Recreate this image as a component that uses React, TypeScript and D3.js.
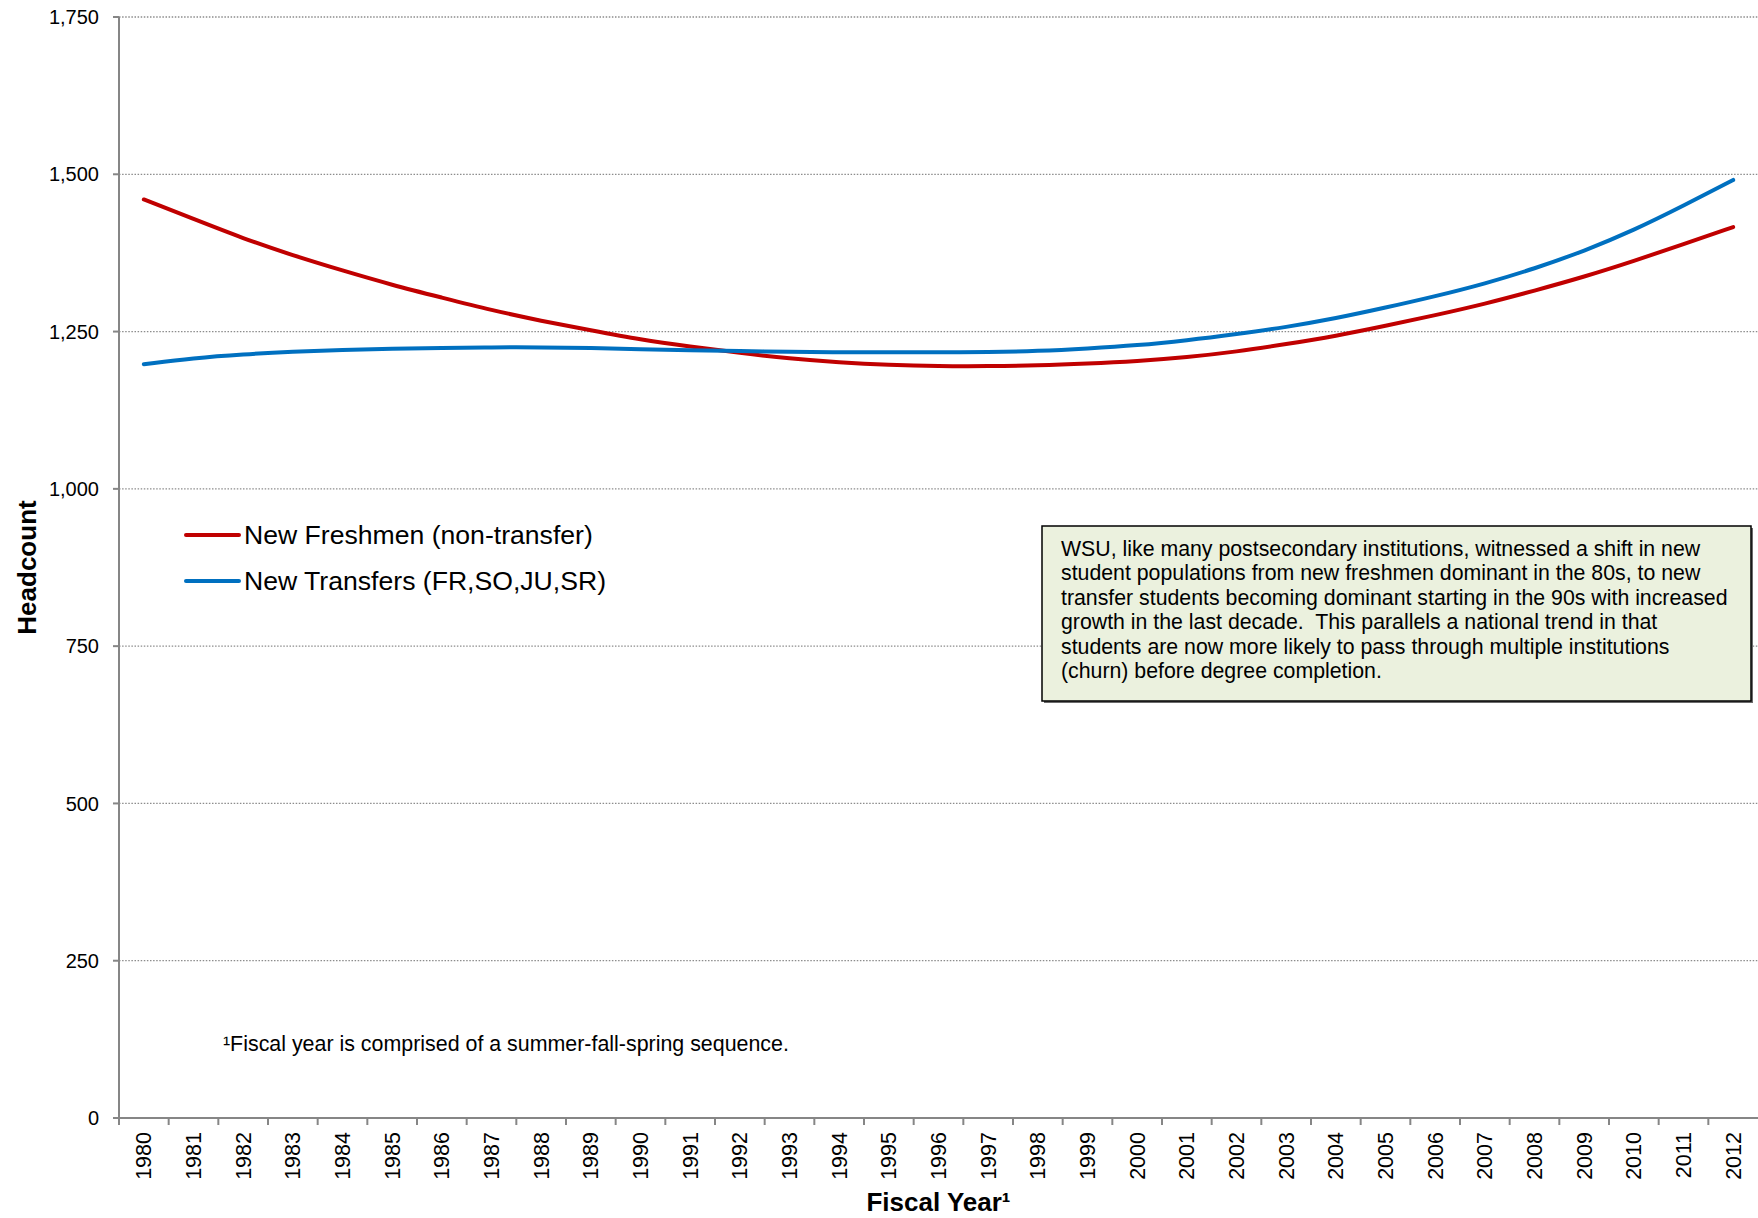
import * as d3 from "d3";
import { useMemo } from "react";

// categories (fiscal years)
const fiscalYears = [
  "1980", "1981", "1982", "1983", "1984", "1985", "1986", "1987", "1988", "1989",
  "1990", "1991", "1992", "1993", "1994", "1995", "1996", "1997", "1998", "1999",
  "2000", "2001", "2002", "2003", "2004", "2005", "2006", "2007", "2008", "2009",
  "2010", "2011", "2012",
];

// trendline values
const newFreshmen = [
  1460, 1429, 1398, 1371, 1347, 1324, 1304, 1284, 1267, 1252,
  1237, 1226, 1216, 1207, 1201, 1197, 1195, 1195, 1196, 1199,
  1203, 1209, 1218, 1230, 1243, 1259, 1276, 1294, 1315, 1337,
  1362, 1389, 1416,
];

const newTransfers = [
  1198, 1208, 1214, 1218, 1221, 1223, 1224, 1225, 1225, 1224,
  1222, 1220, 1219, 1218, 1217, 1217, 1217, 1217, 1219, 1223,
  1228, 1236, 1246, 1257, 1271, 1288, 1306, 1326, 1350, 1378,
  1411, 1450, 1491,
];

const yTickValues = [0, 250, 500, 750, 1000, 1250, 1500, 1750];

const seriesNames = ["New Freshmen (non-transfer)", "New Transfers (FR,SO,JU,SR)"];
const seriesColors = ["#C00000", "#0070C0"];

const noteLines = [
  "WSU, like many postsecondary institutions, witnessed a shift in new",
  "student populations from new freshmen dominant in the 80s, to new",
  "transfer students becoming dominant starting in the 90s with increased",
  "growth in the last decade.  This parallels a national trend in that",
  "students are now more likely to pass through multiple institutions",
  "(churn) before degree completion.",
];

const footnote = "¹Fiscal year is comprised of a summer-fall-spring sequence.";

const FONT = "'Liberation Sans', Arial, Helvetica, sans-serif";

function TrendChart({ width, height }: { width: number; height: number }) {
  // bounds = area inside the axes
  const margin = { top: 17, right: 0, bottom: 100, left: 119 };
  const boundsWidth = width - margin.left - margin.right;
  const boundsHeight = height - margin.top - margin.bottom;

  const xScale = useMemo(() => {
    return d3.scaleBand<string>().domain(fiscalYears).range([0, boundsWidth]).padding(0);
  }, [boundsWidth]);

  const yScale = useMemo(() => {
    return d3.scaleLinear().domain([0, 1750]).range([boundsHeight, 0]);
  }, [boundsHeight]);

  const xCenter = (year: string) => (xScale(year) || 0) + xScale.bandwidth() / 2;

  const lineGenerator = d3
    .line<number>()
    .x((_, i) => xCenter(fiscalYears[i]))
    .y((d) => yScale(d))
    .curve(d3.curveBasis);

  const allSeries = [newFreshmen, newTransfers];

  return (
    <svg width={width} height={height} style={{ position: "absolute", left: 0, top: 0, background: "#fff" }}>
      <g transform={`translate(${margin.left},${margin.top})`} fontFamily={FONT}>
        {/* grid lines */}
        {yTickValues.map((v) => (
          <line
            key={"g" + v}
            x1={0}
            x2={boundsWidth}
            y1={yScale(v)}
            y2={yScale(v)}
            stroke="#8c8c8c"
            strokeWidth={1.3}
            strokeDasharray="1.5,1.6"
          />
        ))}

        {/* y axis */}
        <line x1={0} x2={0} y1={0} y2={boundsHeight} stroke="#868686" strokeWidth={2} />
        {yTickValues.map((v) => (
          <g key={"y" + v} transform={`translate(0,${yScale(v)})`}>
            <line x1={-6} x2={0} stroke="#868686" strokeWidth={2} />
            <text x={-20} dy="0.36em" textAnchor="end" fontSize={20} fill="#000">
              {d3.format(",")(v)}
            </text>
          </g>
        ))}

        {/* x axis */}
        <line x1={0} x2={boundsWidth} y1={boundsHeight} y2={boundsHeight} stroke="#868686" strokeWidth={2} />
        {fiscalYears.map((yr) => (
          <line
            key={"t" + yr}
            x1={xScale(yr)}
            x2={xScale(yr)}
            y1={boundsHeight}
            y2={boundsHeight + 7}
            stroke="#868686"
            strokeWidth={2}
          />
        ))}
        {fiscalYears.map((yr) => (
          <text
            key={"l" + yr}
            transform={`translate(${xCenter(yr) + 7.5},${boundsHeight + 14}) rotate(-90)`}
            textAnchor="end"
            fontSize={21.5}
            fill="#000"
          >
            {yr}
          </text>
        ))}

        {/* trend lines */}
        {allSeries.map((values, i) => (
          <path
            key={"s" + i}
            d={lineGenerator(values) || ""}
            fill="none"
            stroke={seriesColors[i]}
            strokeWidth={4}
            strokeLinecap="round"
          />
        ))}
      </g>

      {/* axis titles */}
      <text
        transform={`translate(36,${margin.top + boundsHeight / 2}) rotate(-90)`}
        textAnchor="middle"
        fontFamily={FONT}
        fontWeight="bold"
        fontSize={26}
      >
        Headcount
      </text>
      <text
        x={margin.left + boundsWidth / 2}
        y={1211}
        textAnchor="middle"
        fontFamily={FONT}
        fontWeight="bold"
        fontSize={26}
      >
        Fiscal Year¹
      </text>

      {/* legend */}
      {seriesNames.map((name, i) => (
        <g key={"lg" + i} transform={`translate(186,${535 + i * 46})`} fontFamily={FONT}>
          <line x1={0} x2={53} stroke={seriesColors[i]} strokeWidth={4} strokeLinecap="round" />
          <text x={58} dy="0.35em" fontSize={26.6} fill="#000">
            {name}
          </text>
        </g>
      ))}

      {/* annotation box */}
      <rect x={1044} y={528} width={709} height={175} fill="#6b6b6b" />
      <rect x={1042} y={526} width={709} height={175} fill="#EBF1DE" stroke="#000" strokeWidth={1.5} />
      {noteLines.map((line, i) => (
        <text
          key={"n" + i}
          x={1061}
          y={556 + i * 24.4}
          fontFamily={FONT}
          fontSize={21.3}
          fill="#000"
          style={{ whiteSpace: "pre" }}
        >
          {line}
        </text>
      ))}

      {/* footnote */}
      <text x={223} y={1051} fontFamily={FONT} fontSize={21.4} fill="#000">
        {footnote}
      </text>
    </svg>
  );
}

export default function App() {
  return <TrendChart width={1758} height={1218} />;
}
